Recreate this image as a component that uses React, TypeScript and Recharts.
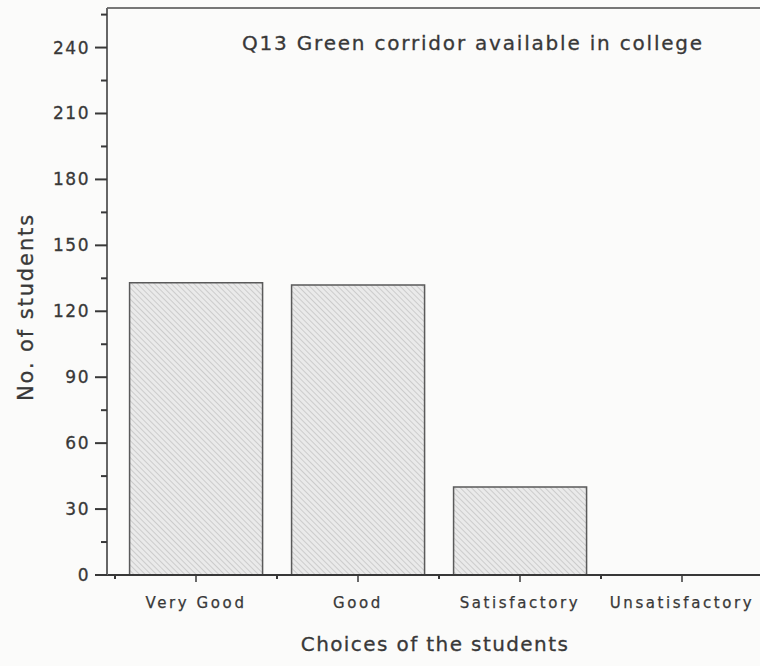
import React from "react";
import { Bar, BarChart, Label, ReferenceLine, XAxis, YAxis } from "recharts";

const choices = ["Very Good", "Good", "Satisfactory", "Unsatisfactory"];
const students = [133, 132, 40, 0];
const yTicks = [0, 15, 30, 45, 60, 75, 90, 105, 120, 135, 150, 165, 180, 195, 210, 225, 240, 255];
const yMax = 258;
const chartTitle = "Q13 Green corridor available in college";
const xTitle = "Choices of the students";
const yTitle = "No. of students";

const data = choices.map((choice, i) => ({ choice, students: students[i] }));

const ink = "#383838";
const font = "'DejaVu Sans', sans-serif";

const YTick = (props: any) => {
  const { x, y, payload } = props;
  const major = payload.value % 30 === 0;
  return (
    <g>
      <line x1={x + 8} x2={x + (major ? -4 : 2)} y1={y} y2={y} stroke={ink} strokeWidth={2} />
      {major && (
        <text
          x={x - 9}
          y={y}
          dy={6}
          textAnchor="end"
          fontFamily={font}
          fontSize={17}
          letterSpacing={1.5}
          fill={ink}
          stroke={ink}
          strokeWidth={0.3}
        >
          {payload.value}
        </text>
      )}
    </g>
  );
};

const XTick = (props: any) => {
  const { x, y, payload } = props;
  const half = payload.offset || 81;
  return (
    <g>
      <line x1={x} x2={x} y1={y - 8} y2={y - 1} stroke={ink} strokeWidth={1.5} />
      <line x1={x - half} x2={x - half} y1={y - 8} y2={y - 4} stroke={ink} strokeWidth={2} />
      <text
        x={x}
        y={y + 25}
        textAnchor="middle"
        fontFamily={font}
        fontSize={15}
        letterSpacing={2.6}
        fill={ink}
        stroke={ink}
        strokeWidth={0.25}
      >
        {payload.value}
      </text>
    </g>
  );
};

export default function App() {
  return (
    <div
      style={{
        position: "absolute",
        left: 0,
        top: 0,
        width: 760,
        height: 666,
        overflow: "hidden",
        background: "#fbfbfa",
      }}
    >
      <BarChart
        width={763}
        height={666}
        data={data}
        margin={{ top: 8, right: 0, left: 0, bottom: 11 }}
        barCategoryGap="9%"
      >
        <defs>
          <pattern
            id="hatch"
            width={4}
            height={4}
            patternUnits="userSpaceOnUse"
            patternTransform="rotate(-45)"
          >
            <rect width={4} height={4} fill="#eaeaea" />
            <line x1={0} y1={0} x2={0} y2={4} stroke="#b8b8b8" strokeWidth={1.2} />
          </pattern>
        </defs>
        <XAxis
          dataKey="choice"
          height={80}
          padding={{ left: 8, right: 0 }}
          tickLine={false}
          axisLine={{ stroke: ink, strokeWidth: 2 }}
          tick={<XTick />}
          interval={0}
        >
          <Label
            value={xTitle}
            position="insideBottom"
            offset={4}
            style={{ fontFamily: font, fontSize: 20, letterSpacing: 1.4, fill: ink, stroke: ink, strokeWidth: 0.3 }}
          />
        </XAxis>
        <YAxis
          width={107}
          domain={[0, yMax]}
          ticks={yTicks}
          interval={0}
          tickLine={false}
          axisLine={{ stroke: "#666", strokeWidth: 2 }}
          tick={<YTick />}
        >
          <Label
            content={() => (
              <text
                x={33}
                y={307}
                transform="rotate(-90 33 307)"
                textAnchor="middle"
                fontFamily={font}
                fontSize={21}
                letterSpacing={1.9}
                fill={ink}
                stroke={ink}
                strokeWidth={0.3}
              >
                {yTitle}
              </text>
            )}
          />
        </YAxis>
        <ReferenceLine y={yMax} stroke="#777" strokeWidth={2} />
        <Bar
          dataKey="students"
          fill="url(#hatch)"
          stroke="#5a5a5a"
          strokeWidth={1.5}
          isAnimationActive={false}
        />
      </BarChart>
      <div
        style={{
          position: "absolute",
          left: 242,
          top: 31,
          fontFamily: font,
          fontSize: 20,
          letterSpacing: 1.8,
          color: ink,
          whiteSpace: "nowrap",
          WebkitTextStroke: "0.3px #383838",
        }}
      >
        {chartTitle}
      </div>
    </div>
  );
}
